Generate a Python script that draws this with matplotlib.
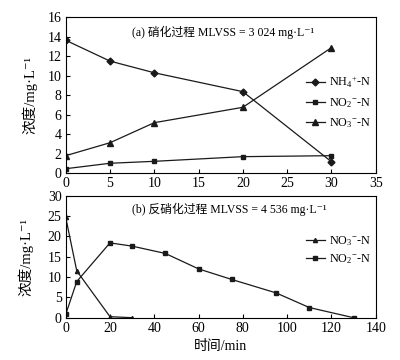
import matplotlib
matplotlib.use("Agg")
import matplotlib.pyplot as plt

plt.rcParams['font.family'] = ['Liberation Serif', 'Noto Sans CJK SC', 'DejaVu Serif']
plt.rcParams['mathtext.fontset'] = 'custom'
plt.rcParams['mathtext.rm'] = 'Liberation Serif'
plt.rcParams['mathtext.it'] = 'Liberation Serif:italic'
plt.rcParams['font.size'] = 9

# Panel (a) nitrification
t_a = [0, 5, 10, 20, 30]
nh4_a = [13.64, 11.5, 10.3, 8.36, 1.16]
no2_a = [0.44, 1.0, 1.2, 1.68, 1.78]
no3_a = [1.78, 3.11, 5.17, 6.75, 12.88]

# Panel (b) denitrification
t_b_no3 = [0, 5, 20, 30]
no3_b = [24.7, 11.5, 0.25, 0.0]
t_b_no2 = [0, 5, 20, 30, 45, 60, 75, 95, 110, 130]
no2_b = [0.8, 8.9, 18.4, 17.6, 15.8, 12.0, 9.4, 6.1, 2.5, 0.0]

W, H = 400, 360
fig = plt.figure(figsize=(W/100, H/100), dpi=100)
ax1 = fig.add_axes([65.7/W, 1-173/H, 310/W, (173-17.3)/H])
ax2 = fig.add_axes([65.7/W, 1-317.7/H, 310/W, (317.7-195.7)/H])

lc = '#1a1a1a'
ax1.plot(t_a, nh4_a, '-', color=lc, marker='D', ms=3.5, lw=0.9, label=r'NH$_4$$^{+}$-N')
ax1.plot(t_a, no2_a, '-', color=lc, marker='s', ms=2.5, lw=0.9, label=r'NO$_2$$^{-}$-N')
ax1.plot(t_a, no3_a, '-', color=lc, marker='^', ms=4.5, lw=0.9, label=r'NO$_3$$^{-}$-N')
ax1.set_xlim(0, 35)
ax1.set_ylim(0, 16)
ax1.set_xticks(range(0, 36, 5))
ax1.set_yticks(range(0, 17, 2))
ax1.text(0.215, 0.9, '(a) 硝化过程 MLVSS = 3 024 mg·L⁻¹', transform=ax1.transAxes,
         fontsize=8.5, va='center', ha='left')
ax1.legend(loc='center left', bbox_to_anchor=(0.755, 0.455), frameon=False, fontsize=8.7,
           handlelength=1.6, handletextpad=0.3, labelspacing=0.5, borderpad=0)
ax1.set_ylabel('浓度/mg·L⁻¹', fontsize=10.5, labelpad=7)

ax2.plot(t_b_no3, no3_b, '-', color=lc, marker='^', ms=3, lw=0.9, label=r'NO$_3$$^{-}$-N')
ax2.plot(t_b_no2, no2_b, '-', color=lc, marker='s', ms=2.5, lw=0.9, label=r'NO$_2$$^{-}$-N')
ax2.set_xlim(0, 140)
ax2.set_ylim(0, 30)
ax2.set_xticks(range(0, 141, 20))
ax2.set_yticks(range(0, 31, 5))
ax2.text(0.215, 0.885, '(b) 反硝化过程 MLVSS = 4 536 mg·L⁻¹', transform=ax2.transAxes,
         fontsize=8.5, va='center', ha='left')
ax2.legend(loc='center left', bbox_to_anchor=(0.755, 0.555), frameon=False, fontsize=8.7,
           handlelength=1.6, handletextpad=0.3, labelspacing=0.3, borderpad=0)
ax2.set_ylabel('浓度/mg·L⁻¹', fontsize=10.5, labelpad=10)
ax2.set_xlabel('时间/min', fontsize=10)

for ax in (ax1, ax2):
    ax.tick_params(direction='in', length=3, width=0.8, labelsize=10, pad=3)
    for s in ax.spines.values():
        s.set_linewidth(0.8)

fig.savefig('out.png', dpi=100)
